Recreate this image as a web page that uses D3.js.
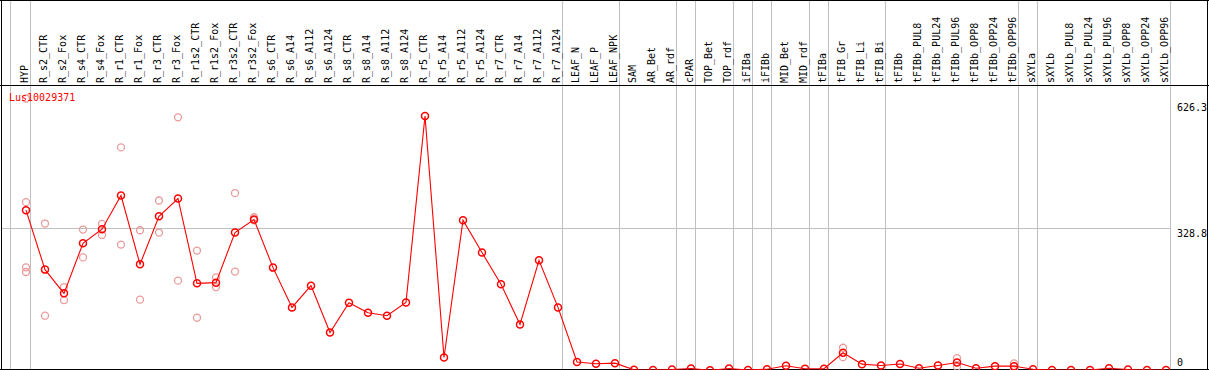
<!DOCTYPE html>
<html>
<head>
<meta charset="utf-8">
<script src="https://cdn.jsdelivr.net/npm/d3@7"></script>
<style>
  html, body { margin: 0; padding: 0; background: #fff; }
  svg { display: block; }
  text { font-family: "DejaVu Sans Mono", "Liberation Mono", monospace; }
</style>
</head>
<body>
<script>
const geneName = "Lus10029371";

const categories = [
  "HYP","R_s2_CTR","R_s2_Fox","R_s4_CTR","R_s4_Fox","R_r1_CTR","R_r1_Fox","R_r3_CTR","R_r3_Fox",
  "R_r1s2_CTR","R_r1s2_Fox","R_r3s2_CTR","R_r3s2_Fox","R_s6_CTR","R_s6_A14","R_s6_A112","R_s6_A124",
  "R_s8_CTR","R_s8_A14","R_s8_A112","R_s8_A124","R_r5_CTR","R_r5_A14","R_r5_A112","R_r5_A124",
  "R_r7_CTR","R_r7_A14","R_r7_A112","R_r7_A124","LEAF_N","LEAF_P","LEAF_NPK","SAM","AR_Bet","AR_rdf",
  "cPAR","TOP_Bet","TOP_rdf","iFIBa","iFIBb","MID_Bet","MID_rdf","tFIBa","tFIB_Gr","tFIB_Li","tFIB_Bi",
  "tFIBb","tFIBb_PUL8","tFIBb_PUL24","tFIBb_PUL96","tFIBb_OPP8","tFIBb_OPP24","tFIBb_OPP96",
  "sXYLa","sXYLb","sXYLb_PUL8","sXYLb_PUL24","sXYLb_PUL96","sXYLb_OPP8","sXYLb_OPP24","sXYLb_OPP96"
];

const meanValues = [
  369.6,233.0,178.5,293.6,325.8,403.4,245.2,355.7,396.5,
  201.5,203.1,318.2,348.1,237.6,146.2,196.2,88.6,
  157.0,134.0,127.1,157.7,586.0,31.1,346.5,272.2,
  199.2,107.1,254.4,146.2,20.7,16.6,18.0,2.8,2.3,3.5,
  5.8,1.8,5.8,2.3,4.1,12.0,5.1,5.1,41.9,15.7,12.7,
  16.1,6.4,12.7,19.6,6.4,11.1,11.1,
  4.1,2.3,2.3,2.3,6.4,3.5,2.3,2.3
];

// replicate measurements (only where they differ visibly from the mean)
const replicateValues = {
  "HYP": [626.3, 388.0, 238.3, 227.5],
  "R_s2_CTR": [338.9, 127.1],
  "R_s2_Fox": [193.0, 163.0],
  "R_s4_CTR": [325.1, 261.0],
  "R_s4_Fox": [338.0, 312.7],
  "R_r1_CTR": [513.9, 290.6],
  "R_r1_Fox": [323.5, 163.9],
  "R_r3_CTR": [391.9, 318.2],
  "R_r3_Fox": [583.0, 207.7],
  "R_r1s2_CTR": [276.8, 122.5],
  "R_r1s2_Fox": [215.3, 193.0],
  "R_r3s2_CTR": [408.7, 228.4],
  "R_r3s2_Fox": [353.4, 346.5],
  "tFIB_Gr": [53.4, 31.8],
  "tFIBb_PUL96": [29.5, 9.7],
  "tFIBb_OPP96": [17.3, 4.6]
};

const groupEnds = ["HYP","R_r7_A124","LEAF_NPK","AR_rdf","cPAR","TOP_rdf","iFIBa","iFIBb",
  "MID_rdf","tFIBa","tFIB_Bi","tFIBb_OPP96","sXYLa","sXYLb_OPP96"];

const yTickValues = [626.3, 328.8, 0];
const yTickLabels = ["626.3", "328.8", "0"];

const W = 1209, H = 370;
const svg = d3.select("body").append("svg").attr("width", W).attr("height", H);

const x = d3.scalePoint().domain(categories).range([26, 1166]);
const y = d3.scaleLinear().domain([0, 626.3]).range([371, 98.5]);

const grid = "#c0c0c0";

// vertical group separators
svg.append("line").attr("x1", x("HYP") - 15.5).attr("x2", x("HYP") - 15.5)
  .attr("y1", 0).attr("y2", H).attr("stroke", grid);
svg.selectAll("line.sep").data(groupEnds).enter().append("line")
  .attr("class", "sep")
  .attr("x1", d => x(d) + 4.5).attr("x2", d => x(d) + 4.5)
  .attr("y1", 0).attr("y2", H).attr("stroke", grid);

// horizontal mid line
const midY = Math.round(y(yTickValues[1])) + 0.5;
svg.append("line").attr("x1", 1).attr("x2", x("sXYLb_OPP96") + 4.5)
  .attr("y1", midY).attr("y2", midY).attr("stroke", grid);

// frame
const frame = svg.append("g").attr("stroke", "#000").attr("stroke-width", 1);
frame.append("line").attr("x1", 0).attr("x2", W).attr("y1", 0.5).attr("y2", 0.5);
frame.append("line").attr("x1", 0).attr("x2", W).attr("y1", 85.5).attr("y2", 85.5);
frame.append("line").attr("x1", 0).attr("x2", W).attr("y1", 369.5).attr("y2", 369.5);
frame.append("line").attr("x1", 1.5).attr("x2", 1.5).attr("y1", 0).attr("y2", H);
frame.append("line").attr("x1", 1207.5).attr("x2", 1207.5).attr("y1", 0).attr("y2", H);

// column labels (rotated)
svg.append("g").selectAll("text").data(categories).enter().append("text")
  .attr("transform", d => `translate(${x(d) + 1.5},83) rotate(-90)`)
  .attr("text-anchor", "start")
  .attr("font-size", 10)
  .attr("fill", "#000")
  .text(d => d);

// y labels on right
svg.append("g").selectAll("text").data(yTickValues).enter().append("text")
  .attr("x", 1177)
  .attr("y", d => Math.max(111, Math.min(366, y(d) + 9)))
  .attr("font-size", 10)
  .attr("fill", "#000")
  .text((d, i) => yTickLabels[i]);

// replicate points
const reps = [];
Object.keys(replicateValues).forEach(k => replicateValues[k].forEach(v => reps.push({c: k, v})));
svg.append("g").selectAll("circle").data(reps).enter().append("circle")
  .attr("cx", d => x(d.c)).attr("cy", d => y(d.v)).attr("r", 3.5)
  .attr("fill", "none").attr("stroke", "#ea9a9a").attr("stroke-width", 1.3);

// mean line
const meanData = categories.map((c, i) => ({c, v: meanValues[i]}));
svg.append("path").datum(meanData)
  .attr("d", d3.line().x(d => x(d.c)).y(d => y(d.v)))
  .attr("fill", "none").attr("stroke", "#ff0000").attr("stroke-width", 1.1);

svg.append("g").selectAll("circle").data(meanData).enter().append("circle")
  .attr("cx", d => x(d.c)).attr("cy", d => y(d.v)).attr("r", 3.5)
  .attr("fill", "none").attr("stroke", "#ff0000").attr("stroke-width", 1.5);

// gene label
svg.append("text").attr("x", 9).attr("y", 100.5)
  .attr("font-size", 10).attr("fill", "#ff0000").text(geneName);
</script>
</body>
</html>
